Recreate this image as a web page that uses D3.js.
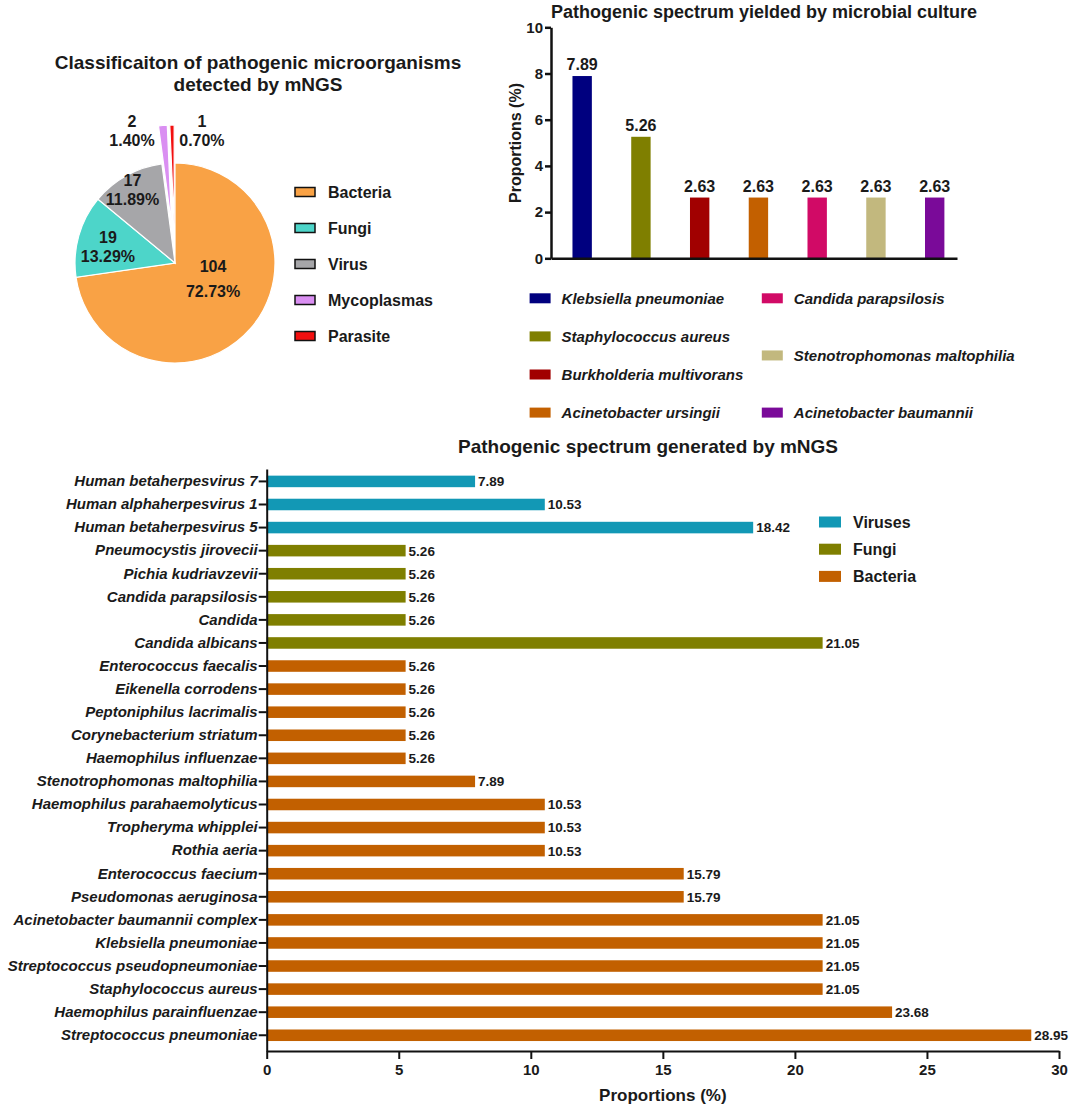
<!DOCTYPE html>
<html>
<head>
<meta charset="utf-8">
<script src="https://cdn.jsdelivr.net/npm/d3@7"></script>
<style>
  html, body { margin: 0; padding: 0; background: #fff; }
  svg { display: block; }
  text { font-family: "Liberation Sans", Arial, sans-serif; fill: #1a1a1a; }
</style>
</head>
<body>
<svg id="chart" width="1080" height="1109"></svg>
<script>
// ---------------- DATA ----------------
const pieCategories = ["Bacteria", "Fungi", "Virus", "Mycoplasmas", "Parasite"];
const pieCounts = [104, 19, 17, 2, 1];
const piePercents = ["72.73%", "13.29%", "11.89%", "1.40%", "0.70%"];

const cultureSpecies = ["Klebsiella pneumoniae", "Staphylococcus aureus", "Burkholderia multivorans",
  "Acinetobacter ursingii", "Candida parapsilosis", "Stenotrophomonas maltophilia", "Acinetobacter baumannii"];
const cultureValues = [7.89, 5.26, 2.63, 2.63, 2.63, 2.63, 2.63];
const cultureTicks = [0, 2, 4, 6, 8, 10];

const mngsSpecies = ["Human betaherpesvirus 7", "Human alphaherpesvirus 1", "Human betaherpesvirus 5",
  "Pneumocystis jirovecii", "Pichia kudriavzevii", "Candida parapsilosis", "Candida", "Candida albicans",
  "Enterococcus faecalis", "Eikenella corrodens", "Peptoniphilus lacrimalis", "Corynebacterium striatum",
  "Haemophilus influenzae", "Stenotrophomonas maltophilia", "Haemophilus parahaemolyticus",
  "Tropheryma whipplei", "Rothia aeria", "Enterococcus faecium", "Pseudomonas aeruginosa",
  "Acinetobacter baumannii complex", "Klebsiella pneumoniae", "Streptococcus pseudopneumoniae",
  "Staphylococcus aureus", "Haemophilus parainfluenzae", "Streptococcus pneumoniae"];
const mngsValues = [7.89, 10.53, 18.42, 5.26, 5.26, 5.26, 5.26, 21.05, 5.26, 5.26, 5.26, 5.26, 5.26,
  7.89, 10.53, 10.53, 10.53, 15.79, 15.79, 21.05, 21.05, 21.05, 21.05, 23.68, 28.95];
const mngsGroups = ["Viruses", "Viruses", "Viruses", "Fungi", "Fungi", "Fungi", "Fungi", "Fungi",
  "Bacteria", "Bacteria", "Bacteria", "Bacteria", "Bacteria", "Bacteria", "Bacteria", "Bacteria",
  "Bacteria", "Bacteria", "Bacteria", "Bacteria", "Bacteria", "Bacteria", "Bacteria", "Bacteria", "Bacteria"];
const mngsGroupNames = ["Viruses", "Fungi", "Bacteria"];
const mngsTicks = [0, 5, 10, 15, 20, 25, 30];

// ---------------- STYLE / LAYOUT ----------------
const pieColors = ["#F9A245", "#4DD5C9", "#A6A6A9", "#DA8FF2", "#F20F0F"];
const cultureColors = ["#00007F", "#7F7F00", "#A10000", "#C36000", "#D10A66", "#C2B87E", "#7A0A99"];
const groupColors = { Viruses: "#1298B5", Fungi: "#7F7F00", Bacteria: "#C26000" };

const svg = d3.select("#chart");

// ================= PIE =================
{
  const cx = 175, cy = 263, R = 100, explode = 38;
  svg.append("text").attr("x", 258).attr("y", 69).attr("text-anchor", "middle")
    .attr("font-size", 19).attr("font-weight", "bold").text("Classificaiton of pathogenic microorganisms");
  svg.append("text").attr("x", 258).attr("y", 91).attr("text-anchor", "middle")
    .attr("font-size", 19).attr("font-weight", "bold").text("detected by mNGS");

  const pie = d3.pie().sort(null).value(d => d.v);
  const data = pieCategories.map((c, i) => ({ c, v: pieCounts[i], p: piePercents[i], i }));
  const arcs = pie(data);
  const arc = d3.arc().innerRadius(0).outerRadius(R);
  const g = svg.append("g").attr("transform", `translate(${cx},${cy})`);
  const exploded = new Set(["Mycoplasmas", "Parasite"]);
  g.selectAll("path").data(arcs).join("path")
    .attr("d", arc)
    .attr("fill", d => pieColors[d.data.i])
    .attr("stroke", "#fff").attr("stroke-width", 1.2)
    .attr("transform", d => {
      if (!exploded.has(d.data.c)) return null;
      const m = (d.startAngle + d.endAngle) / 2;
      return `translate(${Math.sin(m) * explode},${-Math.cos(m) * explode})`;
    });

  // label placement (polar: degrees clockwise from top, radius) and line gap
  const labelPlace = {
    Bacteria: [112, 41, 25], Fungi: [283.5, 69, 19], Virus: [330, 85, 19],
    Mycoplasmas: [342, 139, 19], Parasite: [11.5, 135, 19]
  };
  arcs.forEach(d => {
    const [deg, r, gap] = labelPlace[d.data.c];
    const a = deg * Math.PI / 180;
    const x = Math.sin(a) * r, y = -Math.cos(a) * r;
    const t = g.append("g").attr("transform", `translate(${x},${y})`);
    t.append("text").attr("y", -gap / 2).attr("dy", "0.36em").attr("text-anchor", "middle")
      .attr("font-size", 16).attr("font-weight", "bold").text(d.data.v);
    t.append("text").attr("y", gap / 2).attr("dy", "0.36em").attr("text-anchor", "middle")
      .attr("font-size", 16).attr("font-weight", "bold").text(d.data.p);
  });

  const lg = svg.append("g").attr("transform", "translate(295,192)");
  const rows = lg.selectAll("g").data(pieCategories).join("g")
    .attr("transform", (d, i) => `translate(0,${i * 36})`);
  rows.append("rect").attr("x", 0).attr("y", -4.5).attr("width", 20).attr("height", 9)
    .attr("fill", (d, i) => pieColors[i]).attr("stroke", "#111").attr("stroke-width", 1.5);
  rows.append("text").attr("x", 33).attr("dy", "0.36em").attr("font-size", 16)
    .attr("font-weight", "bold").text(d => d);
}

// ================= CULTURE BAR CHART =================
{
  const x = d3.scaleBand().domain(cultureSpecies).range([551, 957])
    .paddingInner(0.67).paddingOuter(0.29).align(0.63);
  const y = d3.scaleLinear().domain([0, 10]).range([258.3, 27.3]);

  svg.append("text").attr("x", 764).attr("y", 18).attr("text-anchor", "middle")
    .attr("font-size", 18).attr("font-weight", "bold").text("Pathogenic spectrum yielded by microbial culture");

  svg.selectAll(".cbar").data(cultureSpecies).join("rect").attr("class", "cbar")
    .attr("x", d => x(d)).attr("width", x.bandwidth())
    .attr("y", (d, i) => y(cultureValues[i])).attr("height", (d, i) => y(0) - y(cultureValues[i]))
    .attr("fill", (d, i) => cultureColors[i]);

  svg.selectAll(".clab").data(cultureSpecies).join("text").attr("class", "clab")
    .attr("x", d => x(d) + x.bandwidth() / 2).attr("y", (d, i) => y(cultureValues[i]) - 6)
    .attr("text-anchor", "middle").attr("font-size", 16).attr("font-weight", "bold")
    .text((d, i) => cultureValues[i].toFixed(2));

  const ya = svg.append("g").attr("transform", "translate(551,0)")
    .call(d3.axisLeft(y).tickValues(cultureTicks).tickSize(6).tickPadding(2).tickSizeOuter(0));
  ya.selectAll("path, line").attr("stroke", "#111").attr("stroke-width", 2.5);
  ya.selectAll("text").attr("font-size", 15).attr("font-weight", "bold")
    .attr("font-family", '"Liberation Sans", Arial, sans-serif').attr("fill", "#1a1a1a");

  const xa = svg.append("g").attr("transform", `translate(0,${y(0)})`)
    .call(d3.axisBottom(x).tickSize(0).tickSizeOuter(0).tickFormat(""));
  xa.select("path").attr("stroke", "#111").attr("stroke-width", 2.5);

  svg.append("text").attr("transform", "translate(521,143) rotate(-90)").attr("text-anchor", "middle")
    .attr("font-size", 16).attr("font-weight", "bold").text("Proportions (%)");

  // legend: two columns
  const colX = [529.6, 761.8];
  const colItems = [[0, 1, 2, 3], [4, 5, 6]];
  const colTop = 298.3, colBottom = 412.6;
  colItems.forEach((items, c) => {
    const step = (colBottom - colTop) / (items.length - 1);
    items.forEach((idx, k) => {
      const gy = colTop + k * step;
      svg.append("rect").attr("x", colX[c]).attr("y", gy - 5).attr("width", 21).attr("height", 10)
        .attr("fill", cultureColors[idx]);
      svg.append("text").attr("x", colX[c] + 32).attr("y", gy).attr("dy", "0.36em")
        .attr("font-size", 15).attr("font-weight", "bold").attr("font-style", "italic")
        .text(cultureSpecies[idx]);
    });
  });
}

// ================= mNGS HORIZONTAL BAR CHART =================
{
  const x = d3.scaleLinear().domain([0, 30]).range([266.7, 1059]);
  const y = d3.scaleBand().domain(mngsSpecies).range([469, 1051])
    .paddingInner(0.5).paddingOuter(0.36).align(0.4);

  svg.append("text").attr("x", 648).attr("y", 453).attr("text-anchor", "middle")
    .attr("font-size", 19).attr("font-weight", "bold").text("Pathogenic spectrum generated by mNGS");

  svg.selectAll(".mbar").data(mngsSpecies).join("rect").attr("class", "mbar")
    .attr("x", x(0)).attr("y", d => y(d)).attr("height", y.bandwidth())
    .attr("width", (d, i) => x(mngsValues[i]) - x(0))
    .attr("fill", (d, i) => groupColors[mngsGroups[i]]);

  svg.selectAll(".mlab").data(mngsSpecies).join("text").attr("class", "mlab")
    .attr("x", (d, i) => x(mngsValues[i]) + 3).attr("y", d => y(d) + y.bandwidth() / 2)
    .attr("dy", "0.36em").attr("font-size", 13.5).attr("font-weight", "bold")
    .text((d, i) => mngsValues[i].toFixed(2));

  const ya = svg.append("g").attr("transform", `translate(${x(0)},0)`)
    .call(d3.axisLeft(y).tickSize(8).tickPadding(1).tickSizeOuter(0));
  ya.selectAll("path, line").attr("stroke", "#111").attr("stroke-width", 2);
  ya.selectAll("text").attr("font-size", 15).attr("font-weight", "bold").attr("font-style", "italic")
    .attr("font-family", '"Liberation Sans", Arial, sans-serif').attr("fill", "#1a1a1a");

  const xa = svg.append("g").attr("transform", "translate(0,1051)")
    .call(d3.axisBottom(x).tickValues(mngsTicks).tickSize(8).tickPadding(5).tickSizeOuter(0));
  xa.selectAll("path, line").attr("stroke", "#111").attr("stroke-width", 2);
  xa.selectAll("text").attr("font-size", 15).attr("font-weight", "bold")
    .attr("font-family", '"Liberation Sans", Arial, sans-serif').attr("fill", "#1a1a1a");

  svg.append("text").attr("x", (x(0) + x(30)) / 2).attr("y", 1101).attr("text-anchor", "middle")
    .attr("font-size", 17).attr("font-weight", "bold").text("Proportions (%)");

  const lg = svg.append("g").attr("transform", "translate(819,522)");
  const rows = lg.selectAll("g").data(mngsGroupNames).join("g")
    .attr("transform", (d, i) => `translate(0,${i * 27.2})`);
  rows.append("rect").attr("y", -5.5).attr("width", 22).attr("height", 11).attr("fill", d => groupColors[d]);
  rows.append("text").attr("x", 34).attr("dy", "0.36em").attr("font-size", 16).attr("font-weight", "bold").text(d => d);
}
</script>
</body>
</html>
